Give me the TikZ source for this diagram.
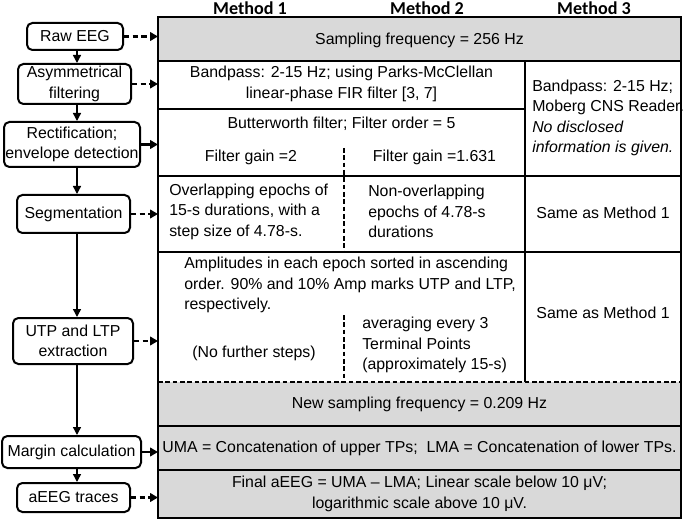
\documentclass[tikz,border=0pt]{standalone}
\usepackage{fontspec}
\setmainfont{Liberation Sans}
\newfontfamily\hdrfont{Carlito}
\usetikzlibrary{arrows.meta}
\definecolor{gfill}{RGB}{217,217,217}
\begin{document}
\begin{tikzpicture}[x=0.75pt,y=-0.75pt,
  every node/.style={font=\fontsize{11.9}{15.4}\selectfont},
  stagebox/.style={draw, line width=1.5pt, rounded corners=4pt, align=center, inner sep=0pt},
  txt/.style={inner sep=0pt, align=center},
  ltxt/.style={inner sep=0pt, align=left, anchor=west},
  hdr/.style={inner sep=0pt, font=\hdrfont\fontsize{13.6}{15}\selectfont\bfseries},
  vflow/.style={line width=1.1pt, -{Triangle[length=6pt,width=6pt]}},
  dasharrow/.style={line width=1.9pt, dash pattern=on 4pt off 2.5pt, -{Triangle[length=6pt,width=6.5pt]}},
  solarrow/.style={line width=1.9pt, -{Triangle[length=6pt,width=6.5pt]}},
  tline/.style={line width=1.5pt},
  tdash/.style={line width=1.1pt, dash pattern=on 3.5pt off 2pt},
]
\useasboundingbox (0,0) rectangle (685,520);

% table background and lines
\fill[gfill] (158,17) rectangle (681,61);
\fill[gfill] (158,382) rectangle (681,518);
\draw[tline] (158,61) -- (681,61);
\draw[tline] (158,109) -- (525,109);
\draw[tline] (158,176) -- (681,176);
\draw[tline] (158,252) -- (681,252);
\draw[tline] (525,61) -- (525,382);
\draw[tdash] (158,382) -- (681,382);
\draw[tline] (158,426) -- (681,426);
\draw[tline] (158,470) -- (681,470);
\draw[tdash] (344,148) -- (344,252);
\draw[tdash] (344,315) -- (344,382);
\draw[tline] (158,17) rectangle (681,518);
\coordinate (tl) at (158,0);
\coordinate (ax) at (77,0);

% headers
\node[hdr] (h1) at (250,8) {Method 1};
\node[hdr] (h2) at (427,8) {Method 2};
\node[hdr] (h3) at (594,8) {Method 3};

% table texts
\node[txt] (c1) at (419.5,40) {Sampling frequency = 256 Hz};
\node[txt] (c2) at (341.5,84) {Bandpass: 2-15 Hz; using Parks-McClellan\\linear-phase FIR filter [3, 7]};
\node[ltxt] (c2m3) at (532,118) {Bandpass: 2-15 Hz;\\Moberg CNS Reader.\\\textit{No disclosed}\\\textit{information is given.}};
\node[txt] (c3) at (341.5,124) {Butterworth filter; Filter order = 5};
\node[txt] (c3a) at (251,157) {Filter gain =2};
\node[txt] (c3b) at (434.5,157) {Filter gain =1.631};
\node[ltxt] (c4a) at (169,211.5) {Overlapping epochs of\\15-s durations, with a\\step size of 4.78-s.};
\node[ltxt] (c4b) at (368,211.5) {Non-overlapping\\epochs of 4.78-s\\durations};
\node[txt] (c4c) at (603,213) {Same as Method 1};
\node[ltxt] (c5) at (184,285) {Amplitudes in each epoch sorted in ascending\\order. 90\% and 10\% Amp marks UTP and LTP,\\respectively.};
\node[txt] (c5a) at (254,353) {(No further steps)};
\node[ltxt] (c5b) at (362,345) {averaging every 3\\Terminal Points\\(approximately 15-s)};
\node[txt] (c5c) at (603,313) {Same as Method 1};
\node[txt] (c6) at (419.5,404) {New sampling frequency = 0.209 Hz};
\node[txt] (c7) at (419.5,448) {UMA = Concatenation of upper TPs;\ \ LMA = Concatenation of lower TPs.};
\node[txt] (c8) at (419.5,494) {Final aEEG = UMA – LMA; Linear scale below 10 μV;\\logarithmic scale above 10 μV.};

% stage boxes
\node[stagebox, minimum width={96*0.75pt}, minimum height={27*0.75pt}] (raw) at (75,36.5) {Raw EEG};
\node[stagebox, minimum width={113*0.75pt}, minimum height={40*0.75pt}] (asym) at (74.5,84) {Asymmetrical\\filtering};
\node[stagebox, minimum width={136*0.75pt}, minimum height={45*0.75pt}] (rect) at (72,144.5) {Rectification;\\envelope detection};
\node[stagebox, minimum width={113*0.75pt}, minimum height={38*0.75pt}] (seg) at (73.5,214) {Segmentation};
\node[stagebox, minimum width={120*0.75pt}, minimum height={46*0.75pt}] (utp) at (73,341) {UTP and LTP\\extraction};
\node[stagebox, minimum width={139*0.75pt}, minimum height={32*0.75pt}] (marg) at (71.5,452) {Margin calculation};
\node[stagebox, minimum width={113*0.75pt}, minimum height={29*0.75pt}] (aeeg) at (73.5,497.5) {aEEG traces};

% vertical flow
\draw[vflow] (raw.south -| ax) -- (asym.north -| ax);
\draw[vflow] (asym.south -| ax) -- (rect.north -| ax);
\draw[vflow] (rect.south -| ax) -- (seg.north -| ax);
\draw[vflow] (seg.south -| ax) -- (utp.north -| ax);
\draw[vflow] (utp.south -| ax) -- (marg.north -| ax);
\draw[vflow] (marg.south -| ax) -- (aeeg.north -| ax);

% arrows to table
\draw[dasharrow] (raw.east) -- (raw.east -| tl);
\draw[dasharrow] (asym.east) -- (asym.east -| tl);
\draw[solarrow] (rect.east) -- (rect.east -| tl);
\draw[dasharrow] (seg.east) -- (seg.east -| tl);
\draw[dasharrow] (utp.east) -- (utp.east -| tl);
\draw[solarrow] (marg.east) -- (marg.east -| tl);
\draw[dasharrow] (aeeg.east) -- (aeeg.east -| tl);
\end{tikzpicture}
\end{document}
